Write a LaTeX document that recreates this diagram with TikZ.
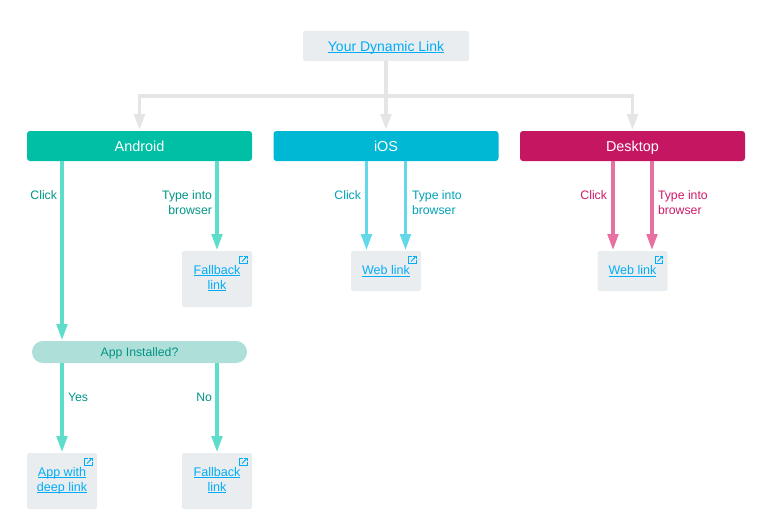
\documentclass[tikz,border=0pt]{standalone}
\usepackage{fontspec}
\setmainfont{Liberation Sans}
\usetikzlibrary{arrows.meta}
\definecolor{boxgrey}{HTML}{E9EDF0}
\definecolor{linkblue}{HTML}{03ADF5}
\definecolor{topline}{HTML}{E5E5E5}
\definecolor{androidc}{HTML}{00BFA5}
\definecolor{iosc}{HTML}{00B8D4}
\definecolor{deskc}{HTML}{C51662}
\definecolor{desktext}{HTML}{CE1A68}
\definecolor{tealarrow}{HTML}{5EDDCB}
\definecolor{cyanarrow}{HTML}{62D8E9}
\definecolor{pinkarrow}{HTML}{E76FA2}
\definecolor{tealtext}{HTML}{009485}
\definecolor{cyantext}{HTML}{00A0B8}
\definecolor{pillc}{HTML}{AFDFD9}
\newcommand{\lnk}[1]{\leavevmode\setbox0\hbox{#1}\rlap{\smash{\rule[-1.5pt]{\wd0}{0.6pt}}}\box0}
\newcommand{\lastdp}{\rule[-3pt]{0pt}{3pt}}
\tikzset{
  x=0.75pt,y=-0.75pt,
  every node/.style={inner sep=0pt,outer sep=0pt},
  platform/.style={rounded corners=2.2pt,minimum width=168.75pt,minimum height=22.5pt,text=white,text height=8pt,text depth=0.4pt,font=\fontsize{10.8pt}{13pt}\selectfont},
  linkbox/.style={fill=boxgrey,rounded corners=1.5pt,minimum width=52.5pt,align=center,text=linkblue,font=\fontsize{9.4pt}{11.25pt}\selectfont},
  conn/.style={line width=2.3pt,-{Triangle[length=12pt,width=8pt]},shorten >=0.75pt},
  greyconn/.style={topline,line width=2.7pt,-{Triangle[length=12pt,width=8pt]},shorten >=0.75pt},
  lab/.style={font=\fontsize{9.2pt}{11.25pt}\selectfont},
  icon/.style={linkblue,line width=0.7pt},
}
\newcommand{\exticon}[1]{%
  \draw[icon] ([shift={(-9,5.3)}]#1.north east) -- ++(-3.5,0) -- ++(0,7.2) -- ++(7.5,0) -- ++(0,-3.5);
  \draw[icon] ([shift={(-10,10.5)}]#1.north east) -- ++(4.5,-4.7);
  \draw[icon] ([shift={(-8,5.3)}]#1.north east) -- ++(3.3,0) -- ++(0,3);
}
\begin{document}
\begin{tikzpicture}
\useasboundingbox (0,0) rectangle (778,528);
% nodes
\node[fill=boxgrey,rounded corners=1.5pt,minimum width=124.5pt,minimum height=22.5pt,text=linkblue,text height=8pt,text depth=0.4pt,font=\fontsize{10.5pt}{13pt}\selectfont] (top) at (386,46) {\lnk{Your Dynamic Link}};
\node[platform,fill=androidc] (android) at (139.5,146) {Android};
\node[platform,fill=iosc] (ios) at (386,146) {iOS};
\node[platform,fill=deskc] (desktop) at (632.5,146) {Desktop};
\node[linkbox,minimum height=42pt] (fb1) at (217,279) {\lnk{Fallback}\\\lnk{link}\lastdp};
\node[fill=pillc,rounded corners=8.2pt,minimum width=161.25pt,minimum height=16.5pt,text=tealtext,text height=7.6pt,text depth=1.4pt,font=\fontsize{9.2pt}{11pt}\selectfont] (app) at (139.5,352) {App Installed?};
\node[linkbox,minimum height=42pt] (deep) at (62,481) {\lnk{App with}\\\lnk{deep link}\lastdp};
\node[linkbox,minimum height=42pt] (fb2) at (217,481) {\lnk{Fallback}\\\lnk{link}\lastdp};
\node[linkbox,minimum height=30pt] (web1) at (386,271) {\lnk{Web link}\rule[-1.5pt]{0pt}{1.5pt}};
\node[linkbox,minimum height=30pt] (web2) at (632.5,271) {\lnk{Web link}\rule[-1.5pt]{0pt}{1.5pt}};
% icons
\exticon{fb1}\exticon{deep}\exticon{fb2}\exticon{web1}\exticon{web2}
% grey connectors
\draw[greyconn] (top.south) -- (ios.north);
\draw[greyconn] (top.south) |- ++(0,35) -| (android.north);
\draw[greyconn] (top.south) |- ++(0,35) -| (desktop.north);
% android
\draw[conn,tealarrow] (android.south -| deep.north) -- (app.north -| deep.north);
\draw[conn,tealarrow] (android.south -| fb1.north) -- (fb1.north);
\draw[conn,tealarrow] (app.south -| deep.north) -- (deep.north);
\draw[conn,tealarrow] (app.south -| fb2.north) -- (fb2.north);
% ios
\draw[conn,cyanarrow] ([xshift=-19.5*0.75pt]ios.south) -- ([xshift=-19.5*0.75pt]web1.north);
\draw[conn,cyanarrow] ([xshift=19.5*0.75pt]ios.south) -- ([xshift=19.5*0.75pt]web1.north);
% desktop
\draw[conn,pinkarrow] ([xshift=-19.5*0.75pt]desktop.south) -- ([xshift=-19.5*0.75pt]web2.north);
\draw[conn,pinkarrow] ([xshift=19.5*0.75pt]desktop.south) -- ([xshift=19.5*0.75pt]web2.north);
% labels
\node[lab,text=tealtext,anchor=east] (l1) at (57,195) {Click};
\node[lab,text=tealtext,anchor=east,align=right] (l2) at (212,202.5) {Type into\\browser};
\node[lab,text=tealtext,anchor=west] (l3) at (68,397) {Yes};
\node[lab,text=tealtext,anchor=east] (l4) at (212,397) {No};
\node[lab,text=cyantext,anchor=east] (l5) at (361,195) {Click};
\node[lab,text=cyantext,anchor=west,align=left] (l6) at (412,202.5) {Type into\\browser};
\node[lab,text=desktext,anchor=east] (l7) at (607,195) {Click};
\node[lab,text=desktext,anchor=west,align=left] (l8) at (658,202.5) {Type into\\browser};
\end{tikzpicture}
\end{document}
